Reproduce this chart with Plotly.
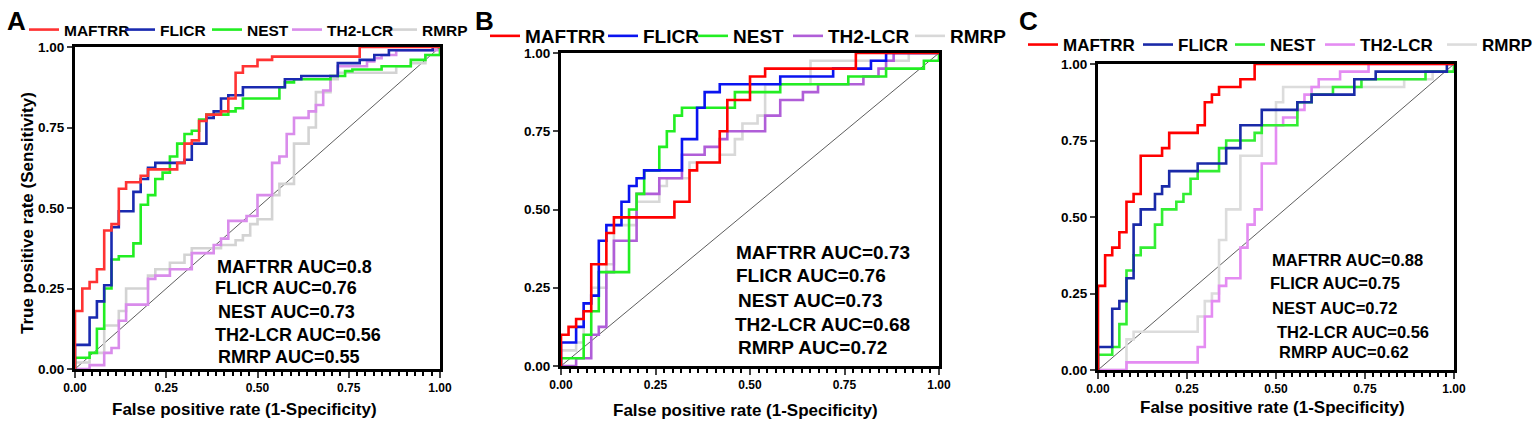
#! env python

import plotly.graph_objects as go

W = 1535
H = 423

names = ['MAFTRR', 'FLICR', 'NEST', 'TH2-LCR', 'RMRP']
panels = ['A', 'B', 'C']
tick_vals = [0, 0.25, 0.5, 0.75, 1.0]
tick_text = ['0.00', '0.25', '0.50', '0.75', '1.00']

# panel A roc steps (fpr, tpr)
a_maftrr_x = [0, 0, 0.02, 0.04, 0.06, 0.08, 0.10, 0.12, 0.14, 0.18, 0.20, 0.28, 0.30, 0.32, 0.34, 0.36, 0.40, 0.42, 0.44, 0.46, 0.50, 0.54, 0.78, 1.0]
a_maftrr_y = [0, 0.18, 0.25, 0.27, 0.31, 0.43, 0.45, 0.56, 0.58, 0.60, 0.62, 0.64, 0.70, 0.71, 0.77, 0.79, 0.80, 0.84, 0.92, 0.94, 0.96, 0.97, 1.0, 1.0]
a_flicr_x = [0, 0, 0.04, 0.06, 0.08, 0.10, 0.12, 0.16, 0.18, 0.20, 0.22, 0.30, 0.32, 0.36, 0.38, 0.40, 0.42, 0.46, 0.575, 0.62, 0.72, 0.78, 0.82, 0.86, 0.98, 1.0]
a_flicr_y = [0, 0.075, 0.16, 0.21, 0.26, 0.44, 0.49, 0.55, 0.59, 0.625, 0.64, 0.65, 0.70, 0.78, 0.80, 0.84, 0.85, 0.875, 0.90, 0.91, 0.95, 0.96, 0.975, 0.99, 1.0, 1.0]
a_nest_x = [0, 0, 0.04, 0.06, 0.08, 0.10, 0.12, 0.16, 0.18, 0.20, 0.22, 0.24, 0.26, 0.28, 0.30, 0.32, 0.34, 0.36, 0.42, 0.44, 0.46, 0.56, 0.575, 0.60, 0.70, 0.74, 0.76, 0.84, 0.92, 0.96, 1.0]
a_nest_y = [0, 0.035, 0.05, 0.125, 0.25, 0.34, 0.35, 0.39, 0.51, 0.54, 0.59, 0.61, 0.66, 0.70, 0.73, 0.74, 0.775, 0.79, 0.80, 0.81, 0.84, 0.875, 0.89, 0.90, 0.91, 0.925, 0.93, 0.94, 0.96, 0.975, 1.0]
a_th2_x = [0, 0.04, 0.08, 0.10, 0.12, 0.14, 0.20, 0.22, 0.26, 0.32, 0.38, 0.40, 0.42, 0.47, 0.50, 0.54, 0.56, 0.58, 0.60, 0.64, 0.66, 0.68, 0.70, 0.72, 0.80, 0.82, 0.84, 0.88, 1.0]
a_th2_y = [0, 0.012, 0.05, 0.065, 0.15, 0.20, 0.28, 0.29, 0.31, 0.36, 0.385, 0.405, 0.46, 0.475, 0.54, 0.64, 0.66, 0.73, 0.78, 0.80, 0.82, 0.865, 0.91, 0.94, 0.955, 0.965, 0.975, 0.99, 1.0]
a_rmrp_x = [0, 0, 0.04, 0.08, 0.12, 0.14, 0.20, 0.22, 0.26, 0.30, 0.32, 0.40, 0.44, 0.46, 0.48, 0.50, 0.54, 0.56, 0.60, 0.64, 0.66, 0.70, 0.72, 0.88, 0.92, 0.96, 1.0]
a_rmrp_y = [0, 0.02, 0.05, 0.135, 0.18, 0.25, 0.29, 0.31, 0.33, 0.355, 0.375, 0.385, 0.40, 0.415, 0.45, 0.465, 0.54, 0.575, 0.70, 0.75, 0.86, 0.90, 0.92, 0.94, 0.95, 0.975, 1.0]

# panel B
b_maftrr_x = [0, 0, 0.02, 0.04, 0.06, 0.08, 0.12, 0.14, 0.30, 0.34, 0.36, 0.42, 0.44, 0.50, 0.54, 0.78, 1.0]
b_maftrr_y = [0, 0.10, 0.125, 0.15, 0.175, 0.325, 0.425, 0.475, 0.525, 0.625, 0.65, 0.75, 0.85, 0.925, 0.95, 1.0, 1.0]
b_flicr_x = [0, 0, 0.04, 0.06, 0.08, 0.10, 0.12, 0.16, 0.18, 0.20, 0.22, 0.32, 0.36, 0.38, 0.42, 0.58, 0.72, 0.82, 0.86, 1.0]
b_flicr_y = [0, 0.075, 0.125, 0.20, 0.225, 0.40, 0.45, 0.525, 0.575, 0.60, 0.625, 0.725, 0.825, 0.875, 0.90, 0.925, 0.95, 0.975, 1.0, 1.0]
b_nest_x = [0, 0, 0.06, 0.08, 0.10, 0.18, 0.20, 0.22, 0.26, 0.28, 0.30, 0.32, 0.46, 0.58, 0.76, 0.86, 0.96, 1.0]
b_nest_y = [0, 0.025, 0.10, 0.175, 0.30, 0.50, 0.55, 0.625, 0.70, 0.75, 0.80, 0.825, 0.875, 0.90, 0.925, 0.95, 0.975, 1.0]
b_th2_x = [0, 0.04, 0.08, 0.10, 0.12, 0.14, 0.20, 0.26, 0.32, 0.38, 0.42, 0.44, 0.54, 0.58, 0.64, 0.68, 0.80, 0.84, 0.86, 0.88, 1.0]
b_th2_y = [0, 0.025, 0.10, 0.125, 0.30, 0.40, 0.55, 0.60, 0.675, 0.70, 0.725, 0.75, 0.80, 0.85, 0.875, 0.90, 0.925, 0.95, 0.975, 1.0, 1.0]
b_rmrp_x = [0, 0, 0.04, 0.06, 0.08, 0.12, 0.14, 0.20, 0.26, 0.28, 0.34, 0.42, 0.46, 0.48, 0.52, 0.54, 0.66, 0.92, 1.0]
b_rmrp_y = [0, 0.05, 0.075, 0.20, 0.25, 0.325, 0.45, 0.525, 0.575, 0.60, 0.65, 0.675, 0.725, 0.775, 0.80, 0.90, 0.975, 1.0, 1.0]

# panel C
c_maftrr_x = [0, 0, 0.02, 0.04, 0.06, 0.08, 0.10, 0.12, 0.18, 0.20, 0.28, 0.30, 0.32, 0.34, 0.40, 0.44, 1.0]
c_maftrr_y = [0, 0.275, 0.375, 0.40, 0.45, 0.55, 0.575, 0.70, 0.725, 0.775, 0.80, 0.875, 0.90, 0.925, 0.95, 1.0, 1.0]
c_flicr_x = [0, 0, 0.04, 0.06, 0.08, 0.10, 0.12, 0.16, 0.18, 0.20, 0.28, 0.36, 0.40, 0.46, 0.56, 0.60, 0.72, 0.78, 0.98, 1.0]
c_flicr_y = [0, 0.075, 0.20, 0.225, 0.30, 0.475, 0.525, 0.575, 0.60, 0.65, 0.675, 0.725, 0.80, 0.85, 0.875, 0.90, 0.95, 0.975, 1.0, 1.0]
c_nest_x = [0, 0, 0.04, 0.06, 0.08, 0.10, 0.12, 0.16, 0.18, 0.22, 0.24, 0.26, 0.28, 0.34, 0.36, 0.44, 0.46, 0.56, 0.60, 0.66, 0.74, 0.92, 1.0]
c_nest_y = [0, 0.05, 0.075, 0.15, 0.325, 0.375, 0.40, 0.475, 0.525, 0.55, 0.575, 0.625, 0.65, 0.725, 0.75, 0.775, 0.80, 0.875, 0.90, 0.925, 0.95, 0.975, 1.0]
c_th2_x = [0, 0.08, 0.28, 0.30, 0.32, 0.34, 0.36, 0.40, 0.42, 0.44, 0.46, 0.50, 0.52, 0.56, 0.58, 0.60, 0.62, 0.68, 0.76, 1.0]
c_th2_y = [0, 0.025, 0.075, 0.175, 0.225, 0.275, 0.30, 0.40, 0.475, 0.525, 0.675, 0.80, 0.825, 0.85, 0.90, 0.925, 0.95, 0.975, 1.0, 1.0]
c_rmrp_x = [0, 0.08, 0.10, 0.28, 0.30, 0.32, 0.34, 0.36, 0.40, 0.46, 0.50, 0.52, 0.86, 0.94, 1.0]
c_rmrp_y = [0, 0.10, 0.125, 0.175, 0.225, 0.25, 0.425, 0.525, 0.70, 0.80, 0.875, 0.925, 0.95, 0.975, 1.0]

auc_a = [0.8, 0.76, 0.73, 0.56, 0.55]
auc_b = [0.73, 0.76, 0.73, 0.68, 0.72]
auc_c = [0.88, 0.75, 0.72, 0.56, 0.62]

curves = [
    [(a_maftrr_x, a_maftrr_y), (a_flicr_x, a_flicr_y), (a_nest_x, a_nest_y), (a_th2_x, a_th2_y), (a_rmrp_x, a_rmrp_y)],
    [(b_maftrr_x, b_maftrr_y), (b_flicr_x, b_flicr_y), (b_nest_x, b_nest_y), (b_th2_x, b_th2_y), (b_rmrp_x, b_rmrp_y)],
    [(c_maftrr_x, c_maftrr_y), (c_flicr_x, c_flicr_y), (c_nest_x, c_nest_y), (c_th2_x, c_th2_y), (c_rmrp_x, c_rmrp_y)],
]
aucs = [auc_a, auc_b, auc_c]

colors = [
    ['#FF3333', '#1A2AB0', '#22EE22', '#D98CEB', '#D3D3D3'],
    ['#FF0000', '#0A14F0', '#22EE22', '#B05ED8', '#D8D8D8'],
    ['#FF0000', '#1A2AA8', '#33EE33', '#E48CF2', '#DCDCDC'],
]

# layout in pixels: plot box (left, right, top, bottom)
boxes = [(75, 440, 47, 369), (561, 939, 53, 366), (1098, 1454, 64, 370)]
legend_text_x = [[64, 160, 247, 327, 422], [525, 643, 733, 828, 950], [1063, 1178, 1270, 1360, 1482]]
legend_y = [30, 36, 45]
legend_size = [15.5, 19, 17]
panel_lab = [(16, 21), (485, 21), (1028, 21)]
auc_pos = [
    [(215, 267), (213, 288), (216, 312), (213, 335), (216, 357)],
    [(734, 252), (734, 275), (736, 300), (733, 324), (736, 347)],
    [(1270, 260), (1268, 283), (1270, 308), (1275, 332), (1277, 352)],
]
auc_size = [18, 19, 16.5]
xtitle_pos = [(245, 409), (745, 410), (1272, 407)]

FONT = 'Liberation Sans, Arial, sans-serif'


def px2x(px):
    return px / W


def px2y(py):
    return 1 - py / H


def main():
    fig = go.Figure()
    annotations = []
    layout = {}
    nleg = 0

    for p in range(3):
        sfx = '' if p == 0 else str(p + 1)
        xa = 'x' + sfx
        ya = 'y' + sfx

        # chance line
        fig.add_trace(go.Scatter(x=[0, 1], y=[0, 1], xaxis=xa, yaxis=ya, mode='lines',
                                 line=dict(color='#333333', width=0.8), showlegend=False,
                                 hoverinfo='skip'))

        # draw RMRP first, MAFTRR last (on top)
        for i in reversed(range(5)):
            nleg = p * 5 + i + 1
            lid = 'legend' if nleg == 1 else 'legend%d' % nleg
            xs, ys = curves[p][i]
            fig.add_trace(go.Scatter(
                x=xs, y=ys, xaxis=xa, yaxis=ya, mode='lines', line_shape='hv',
                line=dict(color=colors[p][i], width=2.6), name=names[i], legend=lid,
            ))
            layout[lid] = dict(
                x=px2x(legend_text_x[p][i] - 40), y=px2y(legend_y[p]), xanchor='left', yanchor='middle',
                orientation='h', bgcolor='rgba(0,0,0,0)', borderwidth=0,
                font=dict(family=FONT, size=legend_size[p], color='black', weight='bold'),
            )

        l, r, t, b = boxes[p]
        layout['xaxis' + sfx] = dict(
            domain=[px2x(l), px2x(r)], anchor=ya, range=[0, 1],
            tickvals=tick_vals, ticktext=tick_text, ticks='outside', ticklen=6, tickwidth=2,
            showline=True, linewidth=3, linecolor='black', mirror=True,
            showgrid=False, zeroline=False, layer='below traces',
            tickfont=dict(family=FONT, size=12, color='black', weight='bold'),
            minor=dict(ticks='outside', ticklen=4, tickwidth=2, tick0=0, dtick=0.25 / 11, tickcolor='black'),
        )
        layout['yaxis' + sfx] = dict(
            domain=[px2y(b), px2y(t)], anchor=xa, range=[0, 1],
            tickvals=tick_vals, ticktext=tick_text, ticks='outside', ticklen=5, tickwidth=2,
            showline=True, linewidth=3, linecolor='black', mirror=True,
            showgrid=False, zeroline=False, layer='below traces',
            tickfont=dict(family=FONT, size=13.5, color='black', weight='bold'),
        )

        # panel letter
        annotations.append(dict(
            text=panels[p], x=px2x(panel_lab[p][0]), y=px2y(panel_lab[p][1]), xref='paper', yref='paper',
            showarrow=False, xanchor='center', yanchor='middle',
            font=dict(family=FONT, size=26, color='black', weight='bold'),
        ))

        # auc labels
        for i in range(5):
            ax, ay = auc_pos[p][i]
            annotations.append(dict(
                text='%s AUC=%s' % (names[i], aucs[p][i]), x=px2x(ax), y=px2y(ay),
                xref='paper', yref='paper', showarrow=False, xanchor='left', yanchor='middle',
                font=dict(family=FONT, size=auc_size[p], color='black', weight='bold'),
            ))

        annotations.append(dict(
            text='False positive rate (1-Specificity)', x=px2x(xtitle_pos[p][0]), y=px2y(xtitle_pos[p][1]),
            xref='paper', yref='paper', showarrow=False, xanchor='center', yanchor='middle',
            font=dict(family=FONT, size=17, color='black', weight='bold'),
        ))

    annotations.append(dict(
        text='True positive rate (Sensitivity)', x=px2x(28), y=px2y(213), xref='paper', yref='paper',
        showarrow=False, textangle=-90, xanchor='center', yanchor='middle',
        font=dict(family=FONT, size=17, color='black', weight='bold'),
    ))

    fig.update_layout(
        width=W, height=H,
        margin=dict(l=0, r=0, t=0, b=0, autoexpand=False),
        paper_bgcolor='white', plot_bgcolor='white',
        font=dict(family=FONT, color='black'),
        annotations=annotations,
        **layout
    )

    # page body has an 8px default margin; drop it so the figure fills the window
    fig.write_html('out.html', config={'displayModeBar': False},
                   post_script="document.body.style.margin = '0';")


if __name__ == '__main__':
    main()
